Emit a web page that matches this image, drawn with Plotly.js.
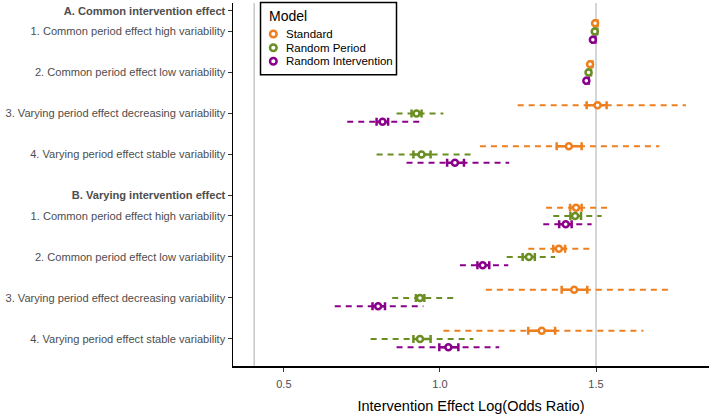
<!DOCTYPE html>
<html>
<head>
<meta charset="utf-8">
<script src="https://cdn.plot.ly/plotly-3.0.1.min.js"></script>
<style>html,body{margin:0;padding:0;background:#fff;}#chart{width:709px;height:417px;}</style>
</head>
<body>
<div id="chart"></div>
<script>
// ---- data ----
const models = ['Standard', 'Random Period', 'Random Intervention'];
const groupNames = ['A. Common intervention effect', 'B. Varying intervention effect'];
const scenarioNames = [
  '1. Common period effect high variability',
  '2. Common period effect low variability',
  '3. Varying period effect decreasing variability',
  '4. Varying period effect stable variability'
];
// rows: A1..A4, B1..B4
const estStandard     = [1.497, 1.481, 1.505, 1.413, 1.436, 1.381, 1.430, 1.326];
const ciLoStandard    = [1.495, 1.479, 1.470, 1.374, 1.417, 1.363, 1.390, 1.283];
const ciHiStandard    = [1.505, 1.489, 1.534, 1.454, 1.454, 1.401, 1.472, 1.369];
const rangeLoStandard = [1.495, 1.479, 1.249, 1.128, 1.340, 1.283, 1.147, 1.011];
const rangeHiStandard = [1.505, 1.489, 1.788, 1.703, 1.540, 1.481, 1.745, 1.652];

const estRandPeriod     = [1.496, 1.476, 0.925, 0.941, 1.433, 1.285, 0.936, 0.936];
const ciLoRandPeriod    = [1.494, 1.474, 0.909, 0.915, 1.418, 1.265, 0.923, 0.915];
const ciHiRandPeriod    = [1.504, 1.484, 0.941, 0.970, 1.452, 1.304, 0.950, 0.970];
const rangeLoRandPeriod = [1.494, 1.474, 0.861, 0.797, 1.363, 1.214, 0.847, 0.778];
const rangeHiRandPeriod = [1.504, 1.484, 1.011, 1.105, 1.518, 1.369, 1.043, 1.107];

const estRandInterv     = [1.490, 1.469, 0.816, 1.048, 1.403, 1.137, 0.802, 1.027];
const ciLoRandInterv    = [1.488, 1.467, 0.797, 1.023, 1.382, 1.120, 0.784, 0.998];
const ciHiRandInterv    = [1.498, 1.477, 0.834, 1.077, 1.422, 1.158, 0.824, 1.059];
const rangeLoRandInterv = [1.488, 1.467, 0.703, 0.893, 1.331, 1.064, 0.663, 0.861];
const rangeHiRandInterv = [1.498, 1.477, 0.945, 1.222, 1.486, 1.219, 0.947, 1.190];

const referenceValues = [0.405, 1.5];
const xTicks = [0.5, 1.0, 1.5];
const xTickLabels = ['0.5', '1.0', '1.5'];

// ---- build ----
const colors = ['#EE7F1E', '#6B8E23', '#8B008B'];
const series = [
  {est: estStandard, lo: ciLoStandard, hi: ciHiStandard, rlo: rangeLoStandard, rhi: rangeHiStandard},
  {est: estRandPeriod, lo: ciLoRandPeriod, hi: ciHiRandPeriod, rlo: rangeLoRandPeriod, rhi: rangeHiRandPeriod},
  {est: estRandInterv, lo: ciLoRandInterv, hi: ciHiRandInterv, rlo: rangeLoRandInterv, rhi: rangeHiRandInterv}
];

// y positions: group header, then rows; reversed axis
const tickvals = [], ticktext = [], rowPos = [];
let start = 0;
groupNames.forEach(g => {
  tickvals.push(start); ticktext.push('<b>' + g + '</b>');
  scenarioNames.forEach((s, i) => {
    const p = start + 0.5 + i;
    tickvals.push(p); ticktext.push(s); rowPos.push(p);
  });
  start = rowPos[rowPos.length - 1] + 1;
});
const dodge = [-0.2, 0, 0.2];

const traces = [];
series.forEach((s, m) => {
  const xs = [], ys = [];
  s.rlo.forEach((lo, i) => {
    const yp = rowPos[i] + dodge[m];
    xs.push(lo, s.rhi[i], null); ys.push(yp, yp, null);
  });
  traces.push({
    type: 'scatter', mode: 'lines', x: xs, y: ys, showlegend: false, hoverinfo: 'skip',
    line: {color: colors[m], width: 2, dash: '6px,5px'}
  });
});
series.forEach((s, m) => {
  traces.push({
    type: 'scatter', mode: 'markers', name: models[m], showlegend: false,
    x: s.est, y: rowPos.map(p => p + dodge[m]),
    marker: {symbol: 'circle', size: 6, color: '#ffffff', line: {color: colors[m], width: 2.5}},
    error_x: {type: 'data', symmetric: false,
      array: s.hi.map((h, i) => h - s.est[i]),
      arrayminus: s.lo.map((l, i) => s.est[i] - l),
      color: colors[m], thickness: 2.5, width: 4}
  });
});

const shapes = referenceValues.map(v => ({
  type: 'line', xref: 'x', yref: 'paper', x0: v, x1: v, y0: 0, y1: 1,
  line: {color: '#C8C8C8', width: 1.5}, layer: 'below'
}));

// custom compact legend (box, title, keys)
const annotations = [];
shapes.push({type: 'rect', xref: 'paper', yref: 'paper', x0: 0.0578, x1: 0.3435, y0: 0.8025, y1: 1.0014,
  line: {color: '#000000', width: 1.5}, fillcolor: '#ffffff', layer: 'above'});
annotations.push({xref: 'paper', yref: 'paper', x: 0.071, y: 0.963, xanchor: 'left', yanchor: 'middle',
  text: 'Model', showarrow: false, font: {size: 14, color: '#000000'}});
const keyY = [0.9146, 0.8769, 0.8394];
models.forEach((name, m) => {
  shapes.push({type: 'circle', xref: 'paper', yref: 'paper', xsizemode: 'pixel', ysizemode: 'pixel',
    xanchor: 0.0847, yanchor: keyY[m], x0: -3.3, x1: 3.3, y0: -3.3, y1: 3.3,
    line: {color: colors[m], width: 2.5}, fillcolor: '#ffffff', layer: 'above'});
  annotations.push({xref: 'paper', yref: 'paper', x: 0.107, y: keyY[m], xanchor: 'left', yanchor: 'middle',
    text: name, showarrow: false, font: {size: 11.5, color: '#000000'}});
});

const layout = {
  width: 709, height: 417,
  margin: {l: 233, r: 0, t: 3, b: 51},
  paper_bgcolor: '#ffffff', plot_bgcolor: '#ffffff',
  font: {family: '"Liberation Sans", Arial, sans-serif', color: '#4D4D4D'},
  showlegend: false,
  xaxis: {
    range: [0.337, 1.862], tickvals: xTicks, ticktext: xTickLabels,
    showgrid: false, zeroline: false, showline: true, linecolor: '#000000', linewidth: 1.5,
    ticks: 'outside', ticklen: 4, tickcolor: '#333333', tickfont: {size: 11, color: '#4D4D4D'},
    ticklabelstandoff: 3,
    title: {text: 'Intervention Effect Log(Odds Ratio)', font: {size: 14.5, color: '#000000'}, standoff: 12}
  },
  yaxis: {
    range: [8.66, -0.195], tickvals: tickvals, ticktext: ticktext,
    showgrid: false, zeroline: false, showline: true, linecolor: '#000000', linewidth: 1.5,
    ticks: 'outside', ticklen: 4, tickcolor: '#333333', tickfont: {size: 11.1, color: '#4D4D4D'}
  },
  shapes: shapes,
  annotations: annotations
};

Plotly.newPlot('chart', traces, layout, {staticPlot: true, displayModeBar: false});
</script>
</body>
</html>
